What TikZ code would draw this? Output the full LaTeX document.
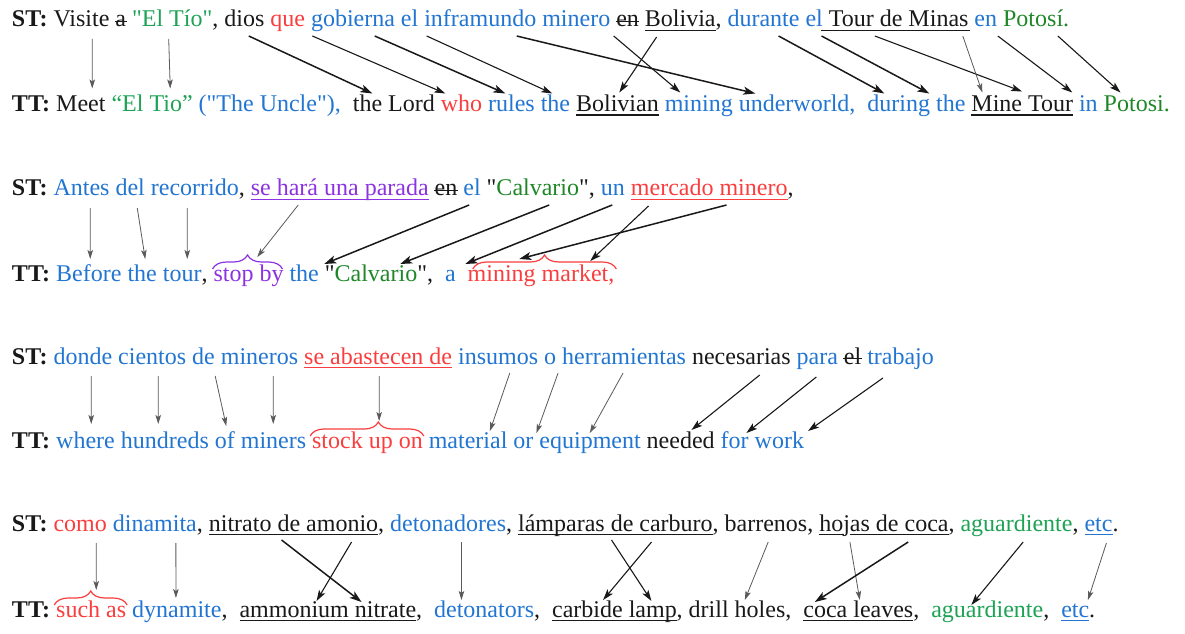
\documentclass[tikz,border=0pt]{standalone}
\usepackage{fontspec}
\setmainfont{Liberation Serif}[Ligatures=TeXOff]
\usetikzlibrary{arrows.meta,decorations.pathreplacing}
\definecolor{cblue}{RGB}{34,118,210}
\definecolor{cred}{RGB}{250,62,62}
\definecolor{cgreen}{RGB}{30,162,85}
\definecolor{cdgreen}{RGB}{32,135,40}
\definecolor{cpurple}{RGB}{140,50,225}
\definecolor{cgray}{RGB}{90,90,90}
\definecolor{ctext}{RGB}{25,25,25}
\newcommand\myarrow[7]{\draw[#1] ([shift={(#3pt,#4pt)}]#2.base west) -- ([shift={(#6pt,#7pt)}]#5.base west);}
\newcommand\uln[3][ctext]{\draw[ul,#1] ([yshift=-3.5pt]#2.base west) -- ([yshift=-3.5pt]#3.base east);}
\newcommand\strk[1]{\draw[so] ([shift={(-0.5pt,5.5pt)}]#1.base west) -- ([shift={(0.5pt,5.5pt)}]#1.base east);}
\begin{document}
\begin{tikzpicture}[x=1pt,y=1pt,
  w/.style={inner sep=0pt,outer sep=0pt,anchor=base west,font=\fontsize{24}{28}\selectfont,text=ctext},
  ak/.style={line width=1.5pt,ctext,-{Stealth[length=12pt,width=8pt,inset=3pt]}},
  am/.style={line width=1.1pt,ctext,-{Stealth[length=11pt,width=7pt,inset=2.5pt]}},
  an/.style={line width=0.8pt,cgray,-{Stealth[length=9pt,width=5.5pt,inset=2pt]}},
  ul/.style={line width=1.2pt},
  so/.style={line width=1pt,ctext},
  br/.style={line width=1.2pt,decorate,decoration={brace,amplitude=14pt}}
]
\useasboundingbox (0,0) rectangle (1185,633);
\fill[white] (0,0) rectangle (1185,633);

% ---------- line 1 (ST) ----------
\node[w] (s1) at (12,606) {\textbf{ST:}};
\node[w] (v1) at ([xshift=6pt]s1.base east) {Visite};
\node[w] (a1) at ([xshift=6pt]v1.base east) {a};
\node[w] (t1) at ([xshift=6pt]a1.base east) {\textcolor{cgreen}{"El Tío"},};
\node[w] (d1) at ([xshift=6pt]t1.base east) {dios};
\node[w] (q1) at ([xshift=6pt]d1.base east) {\textcolor{cred}{que}};
\node[w] (g1) at ([xshift=6pt]q1.base east) {\textcolor{cblue}{gobierna}};
\node[w] (e1) at ([xshift=6pt]g1.base east) {\textcolor{cblue}{el}};
\node[w] (i1) at ([xshift=6pt]e1.base east) {\textcolor{cblue}{inframundo}};
\node[w] (m1) at ([xshift=6pt]i1.base east) {\textcolor{cblue}{minero}};
\node[w] (n1) at ([xshift=6pt]m1.base east) {en};
\node[w] (b1) at ([xshift=6pt]n1.base east) {Bolivia};
\node[w] (b1c) at (b1.base east) {,};
\node[w] (du1) at ([xshift=6pt]b1c.base east) {\textcolor{cblue}{durante}};
\node[w] (el1) at ([xshift=6pt]du1.base east) {\textcolor{cblue}{el}};
\node[w] (to1) at ([xshift=6pt]el1.base east) {Tour};
\node[w] (de1) at ([xshift=6pt]to1.base east) {de};
\node[w] (mi1) at ([xshift=6pt]de1.base east) {Minas};
\node[w] (en1) at ([xshift=6pt]mi1.base east) {\textcolor{cblue}{en}};
\node[w] (p1) at ([xshift=6pt]en1.base east) {\textcolor{cdgreen}{Potosí.}};
\strk{a1}\strk{n1}
\uln{b1}{b1}
\draw[ul,ctext] ([shift={(-8pt,-3.5pt)}]to1.base west) -- ([shift={(2pt,-3.5pt)}]mi1.base east);

% ---------- line 2 (TT) ----------
\node[w] (s2) at (12,521.5) {\textbf{TT:}};
\node[w] (me2) at ([xshift=6pt]s2.base east) {Meet};
\node[w] (et2) at ([xshift=6pt]me2.base east) {\textcolor{cgreen}{“El Tio”}};
\node[w] (un2) at ([xshift=6pt]et2.base east) {\textcolor{cblue}{("The Uncle"),}};
\node[w] (th2) at ([xshift=12pt]un2.base east) {the};
\node[w] (lo2) at ([xshift=6pt]th2.base east) {Lord};
\node[w] (wh2) at ([xshift=6pt]lo2.base east) {\textcolor{cred}{who}};
\node[w] (ru2) at ([xshift=6pt]wh2.base east) {\textcolor{cblue}{rules}};
\node[w] (the2) at ([xshift=6pt]ru2.base east) {\textcolor{cblue}{the}};
\node[w] (bo2) at ([xshift=6pt]the2.base east) {Bolivian};
\node[w] (mn2) at ([xshift=6pt]bo2.base east) {\textcolor{cblue}{mining}};
\node[w] (uw2) at ([xshift=6pt]mn2.base east) {\textcolor{cblue}{underworld,}};
\node[w] (du2) at ([xshift=12pt]uw2.base east) {\textcolor{cblue}{during}};
\node[w] (th2b) at ([xshift=6pt]du2.base east) {\textcolor{cblue}{the}};
\node[w] (mi2) at ([xshift=6pt]th2b.base east) {Mine};
\node[w] (to2) at ([xshift=6pt]mi2.base east) {Tour};
\node[w] (in2) at ([xshift=6pt]to2.base east) {\textcolor{cblue}{in}};
\node[w] (po2) at ([xshift=6pt]in2.base east) {\textcolor{cdgreen}{Potosi.}};
\uln{bo2}{bo2}
\uln{mi2}{to2}

% arrows 1 -> 2
\myarrow{an}{v1}{38.7}{-12}{me2}{36}{23}
\myarrow{an}{t1}{36.6}{-12}{et2}{58.7}{23}
\myarrow{ak}{d1}{24.4}{-9}{th2}{19.5}{18}
\myarrow{am}{q1}{42}{-9}{wh2}{4.5}{18}
\myarrow{ak}{g1}{63.7}{-9}{ru2}{17.2}{18}
\myarrow{am}{i1}{2.4}{-9}{the2}{11.5}{18}
\myarrow{ak}{i1}{92.4}{-9}{uw2}{16.5}{18}
\myarrow{am}{m1}{71.4}{-9}{mn2}{15.5}{19}
\myarrow{am}{b1}{11.7}{-10}{bo2}{43.2}{19}
\myarrow{ak}{du1}{51}{-9}{du2}{16.9}{18}
\myarrow{ak}{el1}{16}{-9}{du2}{61.9}{18}
\myarrow{am}{de1}{-5}{-9}{to2}{-6}{20}
\myarrow{an}{mi1}{54.3}{-9}{mi2}{10.9}{19}
\myarrow{am}{en1}{23.3}{-9}{to2}{44.2}{19}
\myarrow{am}{p1}{54.7}{-9}{po2}{16.8}{19}

% ---------- line 3 (ST) ----------
\node[w] (s3) at (12,437) {\textbf{ST:}};
\node[w] (an3) at ([xshift=6pt]s3.base east) {\textcolor{cblue}{Antes}};
\node[w] (de3) at ([xshift=6pt]an3.base east) {\textcolor{cblue}{del}};
\node[w] (re3) at ([xshift=6pt]de3.base east) {\textcolor{cblue}{recorrido},};
\node[w] (se3) at ([xshift=6pt]re3.base east) {\textcolor{cpurple}{se hará una parada}};
\node[w] (en3) at ([xshift=6pt]se3.base east) {en};
\node[w] (el3) at ([xshift=6pt]en3.base east) {\textcolor{cblue}{el}};
\node[w] (ca3) at ([xshift=6pt]el3.base east) {"\textcolor{cdgreen}{Calvario}",};
\node[w] (un3) at ([xshift=6pt]ca3.base east) {\textcolor{cblue}{un}};
\node[w] (me3) at ([xshift=6pt]un3.base east) {\textcolor{cred}{mercado}};
\node[w] (mn3) at ([xshift=6pt]me3.base east) {\textcolor{cred}{minero}};
\node[w] (mc3) at (mn3.base east) {,};
\uln[cpurple]{se3}{se3}
\strk{en3}
\uln[cred]{me3}{mn3}

% ---------- line 4 (TT) ----------
\node[w] (s4) at (12,352) {\textbf{TT:}};
\node[w] (be4) at ([xshift=6pt]s4.base east) {\textcolor{cblue}{Before}};
\node[w] (th4) at ([xshift=6pt]be4.base east) {\textcolor{cblue}{the}};
\node[w] (to4) at ([xshift=6pt]th4.base east) {\textcolor{cblue}{tour},};
\node[w] (st4) at ([xshift=6pt]to4.base east) {\textcolor{cpurple}{stop by}};
\node[w] (the4) at ([xshift=6pt]st4.base east) {\textcolor{cblue}{the}};
\node[w] (ca4) at ([xshift=6pt]the4.base east) {"\textcolor{cdgreen}{Calvario}",};
\node[w] (a4) at ([xshift=12pt]ca4.base east) {\textcolor{cblue}{a}};
\node[w] (mm4) at ([xshift=12pt]a4.base east) {\textcolor{cred}{mining market,}};
\draw[br,cpurple] ([shift={(-1pt,12pt)}]st4.base west) -- ([shift={(-1pt,12pt)}]st4.base east);
\draw[br,cred] ([shift={(5pt,12pt)}]mm4.base west) -- ([shift={(2pt,12pt)}]mm4.base east);

% arrows 3 -> 4
\myarrow{an}{an3}{36.7}{-12}{be4}{34}{22}
\myarrow{an}{de3}{21.7}{-12}{th4}{17.7}{22}
\myarrow{an}{re3}{36.4}{-12}{to4}{24.4}{22}
\myarrow{an}{se3}{47.4}{-9}{st4}{43.7}{24}
\myarrow{ak}{el3}{5.8}{-9}{the4}{34.7}{17}
\myarrow{ak}{ca3}{62.5}{-9}{ca4}{75.4}{17}
\myarrow{ak}{un3}{11.3}{-9}{a4}{20.2}{17}
\myarrow{am}{me3}{17.6}{-10}{mm4}{122.5}{20}
\myarrow{ak}{mn3}{7}{-9}{mm4}{51.5}{22}

% ---------- line 5 (ST) ----------
\node[w] (s5) at (12,269) {\textbf{ST:}};
\node[w] (do5) at ([xshift=6pt]s5.base east) {\textcolor{cblue}{donde}};
\node[w] (ci5) at ([xshift=6pt]do5.base east) {\textcolor{cblue}{cientos}};
\node[w] (de5) at ([xshift=6pt]ci5.base east) {\textcolor{cblue}{de}};
\node[w] (mi5) at ([xshift=6pt]de5.base east) {\textcolor{cblue}{mineros}};
\node[w] (sa5) at ([xshift=6pt]mi5.base east) {\textcolor{cred}{se abastecen de}};
\node[w] (in5) at ([xshift=6pt]sa5.base east) {\textcolor{cblue}{insumos}};
\node[w] (o5) at ([xshift=6pt]in5.base east) {\textcolor{cblue}{o}};
\node[w] (he5) at ([xshift=6pt]o5.base east) {\textcolor{cblue}{herramientas}};
\node[w] (ne5) at ([xshift=6pt]he5.base east) {necesarias};
\node[w] (pa5) at ([xshift=6pt]ne5.base east) {\textcolor{cblue}{para}};
\node[w] (el5) at ([xshift=6pt]pa5.base east) {el};
\node[w] (tr5) at ([xshift=6pt]el5.base east) {\textcolor{cblue}{trabajo}};
\uln[cred]{sa5}{sa5}
\strk{el5}

% ---------- line 6 (TT) ----------
\node[w] (s6) at (12,185) {\textbf{TT:}};
\node[w] (wh6) at ([xshift=6pt]s6.base east) {\textcolor{cblue}{where}};
\node[w] (hu6) at ([xshift=6pt]wh6.base east) {\textcolor{cblue}{hundreds}};
\node[w] (of6) at ([xshift=6pt]hu6.base east) {\textcolor{cblue}{of}};
\node[w] (mi6) at ([xshift=6pt]of6.base east) {\textcolor{cblue}{miners}};
\node[w] (su6) at ([xshift=6pt]mi6.base east) {\textcolor{cred}{stock up on}};
\node[w] (ma6) at ([xshift=6pt]su6.base east) {\textcolor{cblue}{material}};
\node[w] (or6) at ([xshift=6pt]ma6.base east) {\textcolor{cblue}{or}};
\node[w] (eq6) at ([xshift=6pt]or6.base east) {\textcolor{cblue}{equipment}};
\node[w] (ne6) at ([xshift=6pt]eq6.base east) {needed};
\node[w] (fo6) at ([xshift=6pt]ne6.base east) {\textcolor{cblue}{for}};
\node[w] (wo6) at ([xshift=6pt]fo6.base east) {\textcolor{cblue}{work}};
\draw[br,cred,decoration={brace,amplitude=14pt,aspect=0.6}] ([shift={(-2pt,12pt)}]su6.base west) -- ([shift={(1pt,12pt)}]su6.base east);

% arrows 5 -> 6
\myarrow{an}{do5}{37.7}{-12}{wh6}{35}{24}
\myarrow{an}{ci5}{40}{-12}{hu6}{37.4}{24}
\myarrow{an}{de5}{23}{-12}{of6}{11.4}{22}
\myarrow{an}{mi5}{52.3}{-12}{mi6}{32.4}{24}
\myarrow{an}{sa5}{75}{-12}{su6}{67}{27}
\myarrow{an}{in5}{51.7}{-9}{ma6}{61.1}{17}
\myarrow{an}{o5}{14}{-9}{or6}{23}{15}
\myarrow{an}{he5}{61}{-9}{eq6}{50.4}{15}
\myarrow{am}{ne5}{67.7}{-11}{ne6}{44.7}{18}
\myarrow{am}{pa5}{19.7}{-13}{fo6}{25.7}{15}
\myarrow{am}{tr5}{15.7}{-14}{wo6}{53.4}{17}

% ---------- line 7 (ST) ----------
\node[w] (s7) at (12,102) {\textbf{ST:}};
\node[w] (co7) at ([xshift=6pt]s7.base east) {\textcolor{cred}{como}};
\node[w] (di7) at ([xshift=6pt]co7.base east) {\textcolor{cblue}{dinamita},};
\node[w] (ni7) at ([xshift=6pt]di7.base east) {nitrato de amonio};
\node[w] (nc7) at (ni7.base east) {,};
\node[w] (de7) at ([xshift=6pt]nc7.base east) {\textcolor{cblue}{detonadores},};
\node[w] (la7) at ([xshift=6pt]de7.base east) {lámparas de carburo};
\node[w] (lc7) at (la7.base east) {,};
\node[w] (ba7) at ([xshift=6pt]lc7.base east) {barrenos,};
\node[w] (ho7) at ([xshift=6pt]ba7.base east) {hojas de coca};
\node[w] (hc7) at (ho7.base east) {,};
\node[w] (ag7) at ([xshift=6pt]hc7.base east) {\textcolor{cgreen}{aguardiente},};
\node[w] (et7) at ([xshift=6pt]ag7.base east) {\textcolor{cblue}{etc}};
\node[w] (ec7) at (et7.base east) {.};
\uln{ni7}{ni7}
\uln{la7}{la7}
\draw[ul,ctext] ([yshift=-3.5pt]ho7.base west) -- ([shift={(24.5pt,-3.5pt)}]ho7.base west);
\draw[ul,ctext] ([shift={(30.5pt,-3.5pt)}]ho7.base west) -- ([yshift=-3.5pt]ho7.base east);
\uln[cblue]{et7}{et7}

% ---------- line 8 (TT) ----------
\node[w] (s8) at (12,16) {\textbf{TT:}};
\node[w] (su8) at ([xshift=6pt]s8.base east) {\textcolor{cred}{such as}};
\node[w] (dy8) at ([xshift=6pt]su8.base east) {\textcolor{cblue}{dynamite},};
\node[w] (am8) at ([xshift=12pt]dy8.base east) {ammonium nitrate};
\node[w] (ac8) at (am8.base east) {,};
\node[w] (dt8) at ([xshift=12pt]ac8.base east) {\textcolor{cblue}{detonators},};
\node[w] (ca8) at ([xshift=12pt]dt8.base east) {carbide lamp};
\node[w] (cc8) at (ca8.base east) {,};
\node[w] (dr8) at ([xshift=6pt]cc8.base east) {drill holes,};
\node[w] (co8) at ([xshift=12pt]dr8.base east) {coca leaves};
\node[w] (oc8) at (co8.base east) {,};
\node[w] (ag8) at ([xshift=12pt]oc8.base east) {\textcolor{cgreen}{aguardiente},};
\node[w] (et8) at ([xshift=12pt]ag8.base east) {\textcolor{cblue}{etc}};
\node[w] (ec8) at (et8.base east) {.};
\uln{am8}{am8}
\uln{ca8}{ca8}
\uln{co8}{co8}
\uln[cblue]{et8}{et8}
\draw[br,cred] ([shift={(-2pt,12pt)}]su8.base west) -- ([shift={(1pt,12pt)}]su8.base east);

% arrows 7 -> 8
\myarrow{an}{co7}{42.7}{-12}{su8}{40}{27}
\myarrow{an}{di7}{63}{-12}{dy8}{43.7}{19}
\myarrow{ak}{ni7}{72.7}{-9}{am8}{122}{15}
\myarrow{am}{ni7}{142.7}{-11}{am8}{77}{16}
\myarrow{an}{de7}{71.4}{-11}{dt8}{27.3}{17}
\myarrow{am}{la7}{93.4}{-9}{ca8}{99.3}{16}
\myarrow{am}{la7}{133.4}{-11}{ca8}{51}{17}
\myarrow{an}{ba7}{43.5}{-11}{dr8}{56.1}{17}
\myarrow{an}{ho7}{30.6}{-11}{co8}{56.4}{17}
\myarrow{ak}{ho7}{88.9}{-11}{co8}{11.4}{15}
\myarrow{am}{ag7}{62.6}{-11}{ag8}{40}{12}
\myarrow{an}{et7}{21.9}{-12}{et8}{26.7}{17}
\end{tikzpicture}
\end{document}
